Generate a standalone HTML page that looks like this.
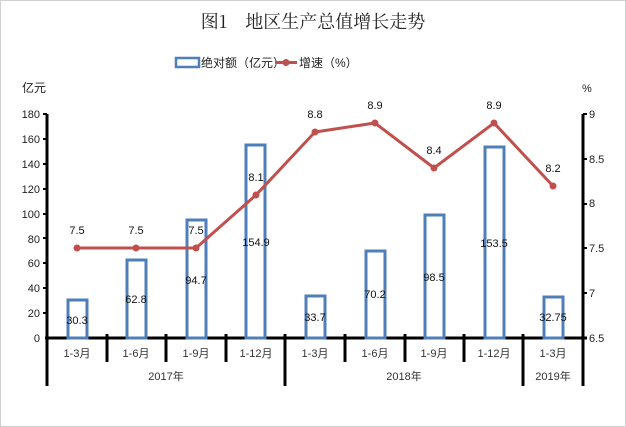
<!DOCTYPE html>
<html><head><meta charset="utf-8"><style>
body{margin:0;background:#fff}
svg{display:block;font-family:"Liberation Sans","Noto Sans CJK SC",sans-serif}
</style></head><body>
<svg width="626" height="427" viewBox="0 0 626 427">
<rect x="0.5" y="0.5" width="625" height="426" fill="#fff" stroke="#d0d0d0"/>
<text x="313" y="28" text-anchor="middle" font-size="18" fill="#222" font-family="'Noto Serif CJK SC','Liberation Serif',serif">图1　地区生产总值增长走势</text>
<rect x="176" y="58" width="23" height="9" fill="none" stroke="#4f7fb8" stroke-width="2.5"/>
<text x="201" y="67" font-size="12" fill="#222">绝对额（亿元）</text>
<line x1="275" y1="62.5" x2="297" y2="62.5" stroke="#c0504d" stroke-width="3"/>
<circle cx="286" cy="62.5" r="3.5" fill="#c0504d"/>
<text x="299" y="67" font-size="12" fill="#222">增速（%）</text>
<text x="22" y="92" font-size="12" fill="#222">亿元</text>
<text x="582" y="92" font-size="11" fill="#222">%</text>
<g font-size="11" fill="#222" text-anchor="end">
<text x="40" y="118">180</text><text x="40" y="143">160</text><text x="40" y="168">140</text><text x="40" y="193">120</text><text x="40" y="218">100</text><text x="40" y="243">80</text><text x="40" y="267">60</text><text x="40" y="292">40</text><text x="40" y="317">20</text><text x="40" y="342">0</text>
</g>
<g font-size="11" fill="#222">
<text x="589" y="118">9</text><text x="589" y="163">8.5</text><text x="589" y="207">8</text><text x="589" y="252">7.5</text><text x="589" y="297">7</text><text x="589" y="342">6.5</text>
</g>
<g stroke="#000" stroke-width="2">
<line x1="47" y1="114" x2="47" y2="386" stroke-width="3"/>
<line x1="43" y1="114" x2="47" y2="114"/><line x1="43" y1="139" x2="47" y2="139"/><line x1="43" y1="164" x2="47" y2="164"/><line x1="43" y1="189" x2="47" y2="189"/><line x1="43" y1="214" x2="47" y2="214"/><line x1="43" y1="238" x2="47" y2="238"/><line x1="43" y1="263" x2="47" y2="263"/><line x1="43" y1="288" x2="47" y2="288"/><line x1="43" y1="313" x2="47" y2="313"/>
<line x1="583" y1="114" x2="583" y2="386" stroke-width="3"/>
<line x1="583" y1="114" x2="587" y2="114"/><line x1="583" y1="159" x2="587" y2="159"/><line x1="583" y1="204" x2="587" y2="204"/><line x1="583" y1="248" x2="587" y2="248"/><line x1="583" y1="293" x2="587" y2="293"/>
<line x1="45" y1="338" x2="587" y2="338" stroke-width="3"/>
<g stroke-width="3">
<line x1="107" y1="334" x2="107" y2="362"/><line x1="166" y1="334" x2="166" y2="362"/><line x1="226" y1="334" x2="226" y2="362"/><line x1="285" y1="334" x2="285" y2="386"/><line x1="345" y1="334" x2="345" y2="362"/><line x1="405" y1="334" x2="405" y2="362"/><line x1="464" y1="334" x2="464" y2="362"/><line x1="523" y1="334" x2="523" y2="386"/>
</g>
</g>
<g fill="none" stroke="#4f7fb8" stroke-width="3">
<rect x="68" y="300" width="19" height="38"/>
<rect x="127" y="260" width="19" height="78"/>
<rect x="187" y="220" width="19" height="118"/>
<rect x="246" y="145" width="19" height="193"/>
<rect x="306" y="296" width="19" height="42"/>
<rect x="366" y="251" width="19" height="87"/>
<rect x="425" y="215" width="19" height="123"/>
<rect x="485" y="147" width="19" height="191"/>
<rect x="544" y="297" width="19" height="41"/>
</g>
<g font-size="11" fill="#111" text-anchor="middle">
<text x="77" y="324">30.3</text><text x="136" y="303">62.8</text><text x="196" y="284">94.7</text><text x="256" y="246">154.9</text>
<text x="315" y="321">33.7</text><text x="375" y="298">70.2</text><text x="434" y="281">98.5</text><text x="494" y="247">153.5</text><text x="553" y="321">32.75</text>
</g>
<polyline points="77,248 136,248 196,248 256,195 315,132 375,123 434,168 494,123 553,186" fill="none" stroke="#c0504d" stroke-width="3"/>
<g fill="#c0504d">
<circle cx="77" cy="248" r="3.5"/><circle cx="136" cy="248" r="3.5"/><circle cx="196" cy="248" r="3.5"/><circle cx="256" cy="195" r="3.5"/><circle cx="315" cy="132" r="3.5"/><circle cx="375" cy="123" r="3.5"/><circle cx="434" cy="168" r="3.5"/><circle cx="494" cy="123" r="3.5"/><circle cx="553" cy="186" r="3.5"/>
</g>
<g font-size="11" fill="#111" text-anchor="middle">
<text x="77" y="234">7.5</text><text x="136" y="234">7.5</text><text x="196" y="234">7.5</text><text x="256" y="181">8.1</text><text x="315" y="118">8.8</text><text x="375" y="109">8.9</text><text x="434" y="154">8.4</text><text x="494" y="109">8.9</text><text x="553" y="172">8.2</text>
</g>
<g font-size="11" fill="#333" text-anchor="middle">
<text x="77" y="357">1-3月</text><text x="136" y="357">1-6月</text><text x="196" y="357">1-9月</text><text x="256" y="357">1-12月</text><text x="315" y="357">1-3月</text><text x="375" y="357">1-6月</text><text x="434" y="357">1-9月</text><text x="494" y="357">1-12月</text><text x="553" y="357">1-3月</text>
<text x="166" y="380">2017年</text><text x="404" y="380">2018年</text><text x="553" y="380">2019年</text>
</g>
</svg>
</body></html>
